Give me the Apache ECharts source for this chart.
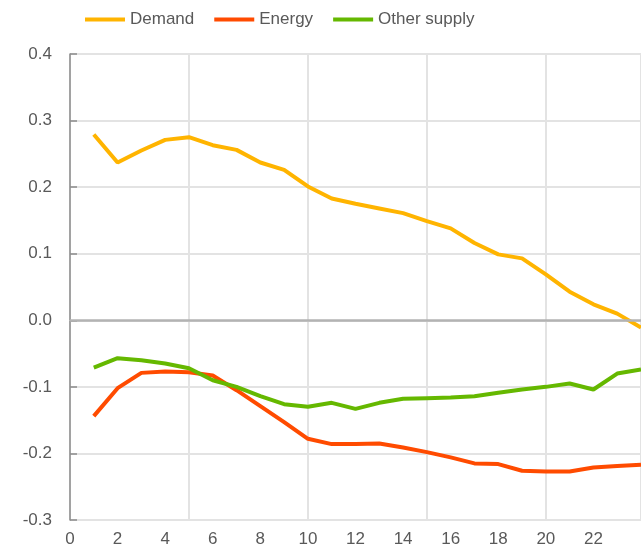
<!DOCTYPE html>
<html>
<head>
<meta charset="utf-8">
<script src="https://cdn.jsdelivr.net/npm/echarts@6/dist/echarts.min.js"></script>
<style>html,body{margin:0;padding:0;background:#fff}#c{width:641px;height:552px}</style>
</head>
<body>
<div id="c"></div>
<script>
var horizons = [1,2,3,4,5,6,7,8,9,10,11,12,13,14,15,16,17,18,19,20,21,22,23,24];
var demand = [0.279,0.237,0.255,0.271,0.275,0.263,0.256,0.237,0.226,0.201,0.183,0.175,0.168,0.161,0.149,0.138,0.116,0.099,0.093,0.069,0.043,0.024,0.010,-0.011];
var energy = [-0.144,-0.102,-0.079,-0.077,-0.078,-0.083,-0.105,-0.129,-0.153,-0.178,-0.186,-0.186,-0.185,-0.191,-0.198,-0.206,-0.215,-0.216,-0.226,-0.227,-0.227,-0.221,-0.219,-0.217];
var otherSupply = [-0.071,-0.057,-0.060,-0.065,-0.072,-0.090,-0.100,-0.114,-0.126,-0.130,-0.124,-0.133,-0.124,-0.118,-0.117,-0.116,-0.114,-0.109,-0.104,-0.100,-0.095,-0.104,-0.080,-0.074];
var seriesNames = ['Demand','Energy','Other supply'];
var colors = ['#FFB400','#FF4B00','#65B800'];

function pairs(ys){ return horizons.map(function(x,i){ return [x, ys[i]]; }); }
var font = '"Liberation Sans",Arial,sans-serif';
var chart = echarts.init(document.getElementById('c'), null, {renderer:'canvas'});
var lineStyle = function(c){ return {color:c, width:4}; };
chart.setOption({
  animation:false,
  color: colors,
  legend:{
    top:6, left:80, itemWidth:40, itemHeight:4, itemGap:20,
    icon:'rect',
    textStyle:{color:'#595959', fontSize:17, fontFamily:font},
    data: seriesNames
  },
  grid:{left:70, right:0, top:54, bottom:32, containLabel:false},
  xAxis:[{
    type:'value', min:0, max:24, interval:2,
    axisLine:{show:true, lineStyle:{color:'#d9d9d9', width:1}},
    axisTick:{show:false},
    splitLine:{show:false},
    axisLabel:{color:'#595959', fontSize:17, fontFamily:font, margin:11, showMaxLabel:false}
  },{
    type:'value', min:0, max:24, interval:5, position:'bottom',
    axisLine:{show:false}, axisTick:{show:false}, axisLabel:{show:false},
    splitLine:{show:true, lineStyle:{color:'#e3e3e3', width:2}}
  }],
  yAxis:{
    type:'value', min:-0.3, max:0.4, interval:0.1,
    axisLine:{show:true, lineStyle:{color:'#8c8c8c', width:1.5}},
    axisTick:{show:true, inside:true, length:7, lineStyle:{color:'#8c8c8c', width:1.5}},
    splitLine:{show:true, lineStyle:{color:'#e3e3e3', width:2}},
    axisLabel:{color:'#595959', fontSize:17, fontFamily:font, margin:18,
      formatter:function(v){ return v.toFixed(1); }}
  },
  series:[
    {name:seriesNames[0], type:'line', data:pairs(demand), showSymbol:false, symbol:'none', lineStyle:lineStyle(colors[0]),
     markLine:{silent:true, symbol:'none', label:{show:false}, lineStyle:{color:'#b3b3b3', width:2.5, type:'solid'}, data:[{yAxis:0}]},
     z:3},
    {name:seriesNames[1], type:'line', data:pairs(energy), showSymbol:false, symbol:'none', lineStyle:lineStyle(colors[1]), z:3},
    {name:seriesNames[2], type:'line', data:pairs(otherSupply), showSymbol:false, symbol:'none', lineStyle:lineStyle(colors[2]), z:4}
  ]
});
</script>
</body>
</html>
